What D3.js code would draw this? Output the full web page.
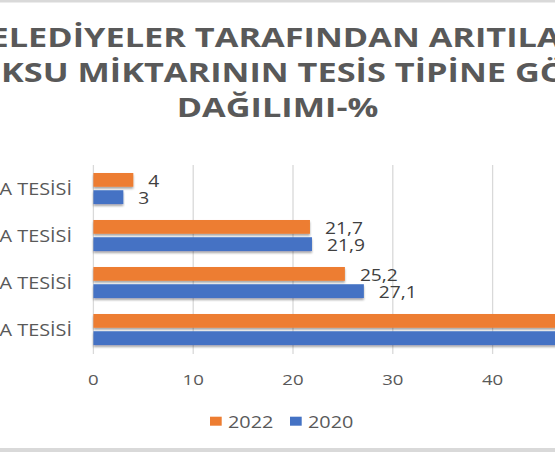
<!DOCTYPE html>
<html><head><meta charset="utf-8">
<script src="https://cdn.jsdelivr.net/npm/d3@7"></script>
<style>html,body{margin:0;padding:0;background:#fff;overflow:hidden}</style>
</head><body>
<svg id="c" width="555" height="452"></svg>
<script>
const titleLines = ["BELEDİYELER TARAFINDAN ARITILAN", "ATIKSU MİKTARININ TESİS TİPİNE GÖRE", "DAĞILIMI-%"];
const categories = ["DOĞAL ARITMA TESİSİ", "FİZİKSEL ARITMA TESİSİ", "BİYOLOJİK ARITMA TESİSİ", "İLERİ ARITMA TESİSİ"];
const seriesNames = ["2022", "2020"];
const values2022 = [4, 21.7, 25.2, 49.1];
const values2020 = [3, 21.9, 27.1, 48];
const ticks = [0, 10, 20, 30, 40, 50];
const colors = {"2022": "#ED7D31", "2020": "#4472C4"};

const svg = d3.select("#c");
const SX = 1.24;
const font = "'Open Sans', sans-serif";
const txtCol = "#595959";

const defs = svg.append("defs");
const f = defs.append("filter").attr("id","sh").attr("x","-5%").attr("y","-30%").attr("width","110%").attr("height","180%");
f.append("feDropShadow").attr("dx",0).attr("dy",2).attr("stdDeviation",1.2).attr("flood-color","#000").attr("flood-opacity",0.35);

// borders
svg.append("rect").attr("x",0).attr("y",0).attr("width",555).attr("height",2.5).attr("fill","#d9d9d9");
svg.append("rect").attr("x",0).attr("y",448).attr("width",555).attr("height",4).attr("fill","#d9d9d9");

function stext(x, y, s, size, weight, anchor, col, sx) {
  return svg.append("text")
    .attr("transform", `translate(${x},${y}) scale(${sx || SX},1)`)
    .attr("text-anchor", anchor)
    .attr("font-family", font).attr("font-size", size).attr("font-weight", weight)
    .attr("fill", col || txtCol).text(s);
}

// title
titleLines.forEach((t, i) => stext(277.5, 47 + i * 35, t, 26, 700, "middle", txtCol, 1.32));

const x = d3.scaleLinear().domain([0, 50]).range([93.4, 592.4]);
const y = d3.scaleBand().domain(categories).range([165, 353]).paddingInner(0.34).paddingOuter(0.17);
const ys = d3.scaleBand().domain(seriesNames).range([0, y.bandwidth()]).paddingInner(0.2);

// gridlines
svg.append("g").selectAll("line").data(ticks).join("line")
  .attr("x1", d => x(d)).attr("x2", d => x(d)).attr("y1", 165).attr("y2", 354)
  .attr("stroke", "#d9d9d9").attr("stroke-width", 1.3);

// tick labels
ticks.forEach(t => stext(x(t), 385, String(t), 15, 400, "middle"));

// category labels
categories.forEach(c => stext(72, y(c) + y.bandwidth() / 2 + 6, c, 16, 400, "end"));

const data = [];
categories.forEach((c, i) => {
  data.push({c, s: "2022", v: values2022[i]});
  data.push({c, s: "2020", v: values2020[i]});
});

svg.append("g").selectAll("rect").data(data).join("rect")
  .attr("x", x(0)).attr("y", d => y(d.c) + ys(d.s))
  .attr("width", d => x(d.v) - x(0)).attr("height", ys.bandwidth())
  .attr("fill", d => colors[d.s]).attr("filter", "url(#sh)");

const fmt = v => String(v).replace(".", ",");
data.forEach(d => stext(x(d.v) + 15, y(d.c) + ys(d.s) + ys.bandwidth() / 2 + 7, fmt(d.v), 15.5, 400, "start", "#404040"));

// legend
[{s:"2022", x:210}, {s:"2020", x:290}].forEach(l => {
  svg.append("rect").attr("x", l.x).attr("y", 416.7).attr("width", 11.7).attr("height", 9).attr("fill", colors[l.s]);
  stext(l.x + 18, 427.5, l.s, 16, 400, "start");
});
</script>
</body></html>
